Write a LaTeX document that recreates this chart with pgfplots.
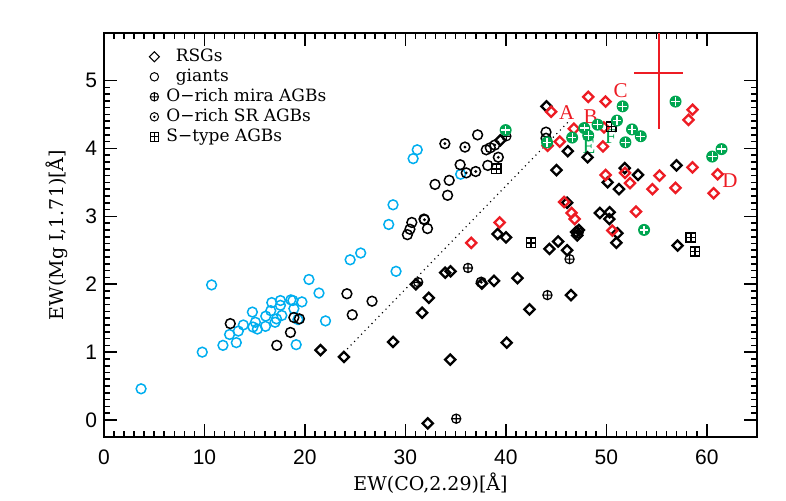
\documentclass[border=0pt]{standalone}
\usepackage{fontspec}
\setmainfont{DejaVu Serif}
\newfontfamily\ticksfont{Liberation Sans}
\newfontfamily\letterfont{Liberation Serif}
\usepackage{pgfplots}
\pgfplotsset{compat=1.18}

\definecolor{ired}{RGB}{237,28,36}
\definecolor{igreen}{RGB}{0,166,81}
\definecolor{icyan}{RGB}{0,174,239}

% marks
\pgfdeclareplotmark{rdiamond}{%
  \pgfpathmoveto{\pgfqpoint{0pt}{\pgfplotmarksize}}%
  \pgfpathlineto{\pgfqpoint{\pgfplotmarksize}{0pt}}%
  \pgfpathlineto{\pgfqpoint{0pt}{-\pgfplotmarksize}}%
  \pgfpathlineto{\pgfqpoint{-\pgfplotmarksize}{0pt}}%
  \pgfpathclose\pgfusepathqstroke}
\pgfdeclareplotmark{odotc}{%
  \pgfpathcircle{\pgfpointorigin}{\pgfplotmarksize}\pgfusepathqstroke
  \pgfpathcircle{\pgfpointorigin}{0.32\pgfplotmarksize}\pgfusepathqfill}
\pgfdeclareplotmark{boxplus}{%
  \pgfpathrectangle{\pgfqpoint{-\pgfplotmarksize}{-\pgfplotmarksize}}{\pgfqpoint{2\pgfplotmarksize}{2\pgfplotmarksize}}%
  \pgfpathmoveto{\pgfqpoint{-\pgfplotmarksize}{0pt}}\pgfpathlineto{\pgfqpoint{\pgfplotmarksize}{0pt}}%
  \pgfpathmoveto{\pgfqpoint{0pt}{-\pgfplotmarksize}}\pgfpathlineto{\pgfqpoint{0pt}{\pgfplotmarksize}}%
  \pgfusepathqstroke}
\pgfdeclareplotmark{greenplus}{%
  \pgfpathcircle{\pgfpointorigin}{\pgfplotmarksize}%
  \pgfsetfillcolor{igreen}\pgfusepathqfill
  \pgfsetstrokecolor{white}%
  \pgfpathmoveto{\pgfqpoint{-0.72\pgfplotmarksize}{0pt}}\pgfpathlineto{\pgfqpoint{0.72\pgfplotmarksize}{0pt}}%
  \pgfpathmoveto{\pgfqpoint{0pt}{-0.72\pgfplotmarksize}}\pgfpathlineto{\pgfqpoint{0pt}{0.72\pgfplotmarksize}}%
  \pgfusepathqstroke}

\pgfplotsset{legimg/.style={legend image code/.code={%
  \draw[##1] plot coordinates {(4pt,0pt)};}}}

\begin{document}
\begin{tikzpicture}
\begin{axis}[
  at={(0,0)}, anchor=south west,
  width=326.5pt, height=202pt, scale only axis,
  xmin=0, xmax=65, ymin=-0.25, ymax=5.7,
  xtick={0,10,...,60}, ytick={0,1,...,5},
  minor x tick num=9, minor y tick num=9,
  tick align=inside, major tick length=6.5pt, minor tick length=3.2pt,
  axis line style={line width=1pt},
  tick style={black, line width=0.8pt},
  ticklabel style={font=\ticksfont\fontsize{10.5}{12}\selectfont},
  /pgf/number format/assume math mode=true,
  xticklabel style={yshift=-3pt},
  xlabel={EW(CO,2.29)[Å]}, ylabel={EW(Mg I,1.71)[Å]},
  label style={font=\fontsize{9.5}{11}\selectfont},
  xlabel style={at={(axis description cs:0.5,-0.114)}, anchor=center},
  ylabel style={at={(axis description cs:-0.072,0.5)}, anchor=center},
  legend style={at={(axis description cs:0.0689,0.9636)}, anchor=north west,
    draw=none, fill=none, inner sep=0pt, row sep=1.3pt, column sep=3.5pt,
    font=\fontsize{8.5}{10}\selectfont,
    nodes={inner sep=0pt, text height=6.5pt, text depth=2.2pt}},
  legend cell align=left,
]
% legend
\addlegendimage{only marks, black, mark=rdiamond, mark size=2.5pt, line width=0.5pt, legimg}
\addlegendentry{\hspace{4.7pt}RSGs}
\addlegendimage{only marks, black, mark=o, mark size=2.1pt, line width=0.5pt, legimg}
\addlegendentry{\hspace{4.7pt}giants}
\addlegendimage{only marks, black, mark=oplus, mark size=2.1pt, line width=0.5pt, legimg}
\addlegendentry{O−rich mira AGBs}
\addlegendimage{only marks, black, mark=odotc, mark size=2.1pt, line width=0.5pt, legimg}
\addlegendentry{O−rich SR AGBs}
\addlegendimage{only marks, black, mark=boxplus, mark size=2.1pt, line width=0.5pt, legimg}
\addlegendentry{S−type AGBs}

% error cross
\addplot[forget plot, draw=none, mark=none,
  error bars/.cd, x dir=both, y dir=both, x explicit, y explicit,
  error mark=none, error bar style={ired, line width=1pt}]
  coordinates {(55.2,5.11) +- (2.4,0.83)};

% giants (cyan)
\addplot[forget plot, only marks, icyan, mark=o, mark size=2.45pt, line width=0.75pt] coordinates {
(3.69,0.46)(9.78,1.00)(10.71,1.99)(11.84,1.10)(13.17,1.14)(12.50,1.26)
(13.37,1.31)(13.87,1.40)(14.77,1.59)(14.83,1.37)(15.07,1.44)(15.27,1.34)
(16.07,1.38)(16.10,1.53)(16.60,1.61)(16.70,1.73)(17.03,1.44)(17.17,1.49)
(17.56,1.76)(17.56,1.69)(17.70,1.54)(18.60,1.77)(18.80,1.76)(18.90,1.64)
(19.13,1.11)(19.30,1.48)(19.70,1.74)(20.40,2.07)(21.40,1.87)(22.05,1.46)
(24.50,2.36)(25.55,2.46)(28.34,2.88)(28.77,3.17)(29.07,2.19)(30.77,3.85)
(31.18,3.98)(35.50,3.62)
};
% giants (black)
\addplot[forget plot, only marks, black, mark=o, mark size=2.45pt, line width=0.75pt] coordinates {
(12.57,1.42)(17.20,1.10)(18.56,1.29)(18.90,1.51)(19.45,1.49)(24.18,1.86)
(24.71,1.55)(26.68,1.75)(30.20,2.73)(30.45,2.81)(30.64,2.91)(31.85,2.96)
(32.20,2.82)(32.95,3.47)(34.36,3.53)(34.20,3.31)(35.45,3.76)(37.19,4.20)
(38.20,3.75)(38.05,3.98)(38.45,4.01)(44.00,4.24)
};
% O-rich SR AGBs
\addplot[forget plot, only marks, black, mark=odotc, mark size=2.45pt, line width=0.75pt] coordinates {
(31.90,2.95)(33.93,4.07)(35.93,4.02)(36.06,3.64)(37.00,3.66)(38.90,4.05)
(39.25,3.87)(44.00,4.15)(37.55,2.03)(47.20,2.76)
};
% RSGs (black)
\addplot[forget plot, only marks, black, mark=rdiamond, mark size=2.55pt, line width=1.15pt] coordinates {
(21.55,1.03)(23.88,0.93)(28.77,1.15)(34.46,0.89)(40.08,1.14)(32.23,-0.05)
(31.04,2.00)(32.33,1.80)(31.67,1.58)(33.96,2.17)(34.50,2.19)(37.62,2.01)
(38.82,2.05)(41.15,2.09)(42.35,1.63)(46.48,1.84)(44.34,2.52)(45.20,2.63)
(46.10,2.50)(39.18,2.74)(40.02,2.69)(46.10,3.20)(47.00,2.77)(47.27,2.80)
(47.10,2.72)(44.04,4.62)(39.45,4.12)(46.17,3.96)(45.04,3.68)(48.13,3.87)
(51.83,3.71)(53.16,3.61)(50.13,3.50)(51.26,3.40)(56.99,3.75)(49.36,3.05)
(50.33,3.06)(50.30,2.96)(51.10,2.75)(51.00,2.61)(57.09,2.57)
};
% RSGs (red)
\addplot[forget plot, only marks, ired, mark=rdiamond, mark size=2.55pt, line width=1.15pt] coordinates {
(36.56,2.61)(39.38,2.91)(45.80,3.21)(46.54,3.05)(46.85,2.96)(44.50,4.54)
(44.16,4.04)(45.37,4.10)(46.77,4.29)(48.20,4.76)(49.93,4.69)(49.76,4.31)
(49.66,4.03)(58.58,4.57)(58.18,4.42)(58.58,3.72)(55.29,3.60)(56.89,3.42)
(54.59,3.40)(61.08,3.62)(60.68,3.34)(49.93,3.61)(51.86,3.64)(52.36,3.49)
(52.96,3.07)(50.60,2.79)
};
% O-rich mira AGBs (black)
\addplot[forget plot, only marks, black, mark=oplus, mark size=2.3pt, line width=0.6pt] coordinates {
(31.27,2.03)(35.06,0.02)(36.23,2.24)(40.05,4.18)(44.14,1.84)(46.34,2.37)
};
% S-type AGBs
\addplot[forget plot, only marks, black, mark=boxplus, mark size=2.3pt, line width=0.75pt] coordinates {
(39.05,3.70)(42.50,2.61)(50.50,4.32)(58.41,2.69)(58.84,2.48)
};
% O-rich mira AGBs (green)
\addplot[forget plot, only marks, mark=greenplus, mark size=3pt, line width=0.65pt] coordinates {
(39.98,4.27)(44.10,4.09)(46.60,4.16)(47.80,4.30)(48.20,4.19)(49.13,4.35)
(51.06,4.41)(51.63,4.62)(52.56,4.28)(53.43,4.18)(51.90,4.09)(56.89,4.69)
(60.54,3.88)(61.47,3.99)(53.76,2.80)
};
% dotted line
\addplot[forget plot, black, line width=0.8pt, line cap=round, dash pattern=on 0pt off 2.5pt] coordinates {(23.9,1.00)(46.4,4.42)};

\node[ired, font=\letterfont\fontsize{10.5}{12}\selectfont] at (axis cs:46.05,4.53) {A};
\node[ired, font=\letterfont\fontsize{10.5}{12}\selectfont] at (axis cs:48.45,4.47) {B};
\node[ired, font=\letterfont\fontsize{10.5}{12}\selectfont] at (axis cs:51.43,4.85) {C};
\node[ired, font=\letterfont\fontsize{10.5}{12}\selectfont] at (axis cs:62.30,3.53) {D};
\node[igreen, font=\letterfont\fontsize{10.5}{12}\selectfont] at (axis cs:48.27,4.02) {E};
\node[igreen, font=\letterfont\fontsize{10.5}{12}\selectfont] at (axis cs:50.43,4.17) {F};
\end{axis}
\pgfresetboundingbox
\useasboundingbox (-52pt,-31.5pt) rectangle (341pt,218.5pt);
\end{tikzpicture}
\end{document}
